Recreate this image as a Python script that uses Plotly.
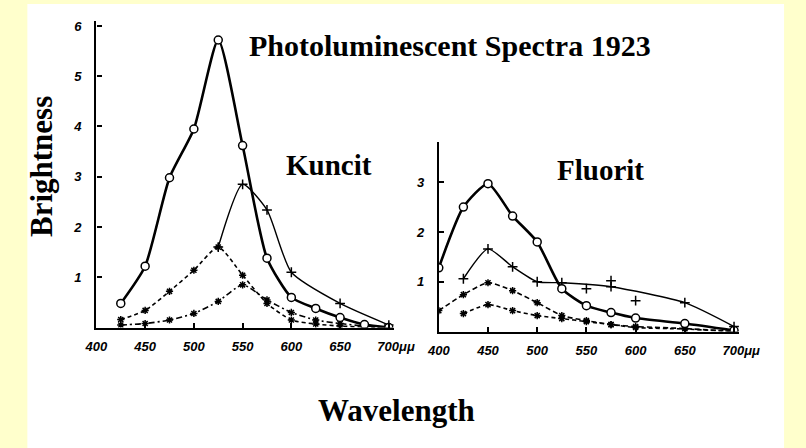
import plotly.graph_objects as go

W, H = 806, 448

# ---------------- data ----------------
# Kuncit (left panel)
k_main_wl = [425, 450, 475, 500, 525, 550, 575, 600, 625, 650, 675, 700]
k_main = [0.48, 1.22, 2.98, 3.95, 5.72, 3.62, 1.38, 0.60, 0.38, 0.20, 0.06, 0.0]

k_thin_wl = [525, 550, 575, 600, 650, 700]
k_thin = [1.60, 2.85, 2.34, 1.10, 0.48, 0.05]

k_dash_wl = [425, 450, 475, 500, 525, 550, 575, 600, 625, 650, 675, 700]
k_dash = [0.16, 0.34, 0.72, 1.14, 1.60, 1.04, 0.48, 0.15, 0.07, 0.03, 0.01, 0.0]

k_low_wl = [425, 450, 475, 500, 525, 550, 575, 600, 625, 650, 675, 700]
k_low = [0.05, 0.08, 0.15, 0.28, 0.52, 0.85, 0.55, 0.30, 0.15, 0.08, 0.03, 0.0]

# Fluorit (right panel)
f_main_wl = [400, 425, 450, 475, 500, 525, 550, 575, 600, 650, 700]
f_main = [1.28, 2.50, 2.97, 2.32, 1.80, 0.86, 0.52, 0.38, 0.27, 0.16, 0.02]

f_thin_wl = [425, 450, 475, 500, 525, 575, 650, 700]
f_thin = [1.06, 1.66, 1.30, 1.00, 0.98, 0.90, 0.58, 0.10]

f_extra_wl = [550, 575, 600]
f_extra = [0.86, 1.02, 0.62]

f_mid_wl = [400, 425, 450, 475, 500, 525, 550, 575, 600, 650, 700]
f_mid = [0.42, 0.74, 0.98, 0.82, 0.58, 0.32, 0.22, 0.14, 0.10, 0.06, 0.0]

f_low_wl = [425, 450, 475, 500, 525, 550, 575, 600, 650, 700]
f_low = [0.36, 0.54, 0.42, 0.32, 0.26, 0.20, 0.14, 0.08, 0.05, 0.0]

x_tickvals = [400, 450, 500, 550, 600, 650, 700]
x_ticktext = ["400", "450", "500", "550", "600", "650", "\u2007\u2007700μμ"]
k_y_tickvals = [1, 2, 3, 4, 5, 6]
f_y_tickvals = [1, 2, 3]

# ---------------- figure ----------------
fig = go.Figure()

def add(x, y, xa, ya, width, dash, symbol, msize, fill="black", mode="lines+markers", shape="spline"):
    fig.add_trace(go.Scatter(
        x=x, y=y, xaxis=xa, yaxis=ya, mode=mode,
        line=dict(color="black", width=width, dash=dash, shape=shape, smoothing=0.6),
        marker=dict(symbol=symbol, size=msize, color=fill,
                    line=dict(color="black", width=1.5)),
        showlegend=False, hoverinfo="skip"))

# Kuncit
add(k_low_wl, k_low, "x", "y", 1.6, "6px,3px,2px,3px", "asterisk-open", 6)
add(k_dash_wl, k_dash, "x", "y", 1.6, "4px,3px", "asterisk-open", 6)
add(k_thin_wl, k_thin, "x", "y", 1.4, "solid", "cross-thin-open", 7)
add(k_main_wl, k_main, "x", "y", 2.6, "solid", "circle", 8, fill="white")

# Fluorit
add(f_low_wl, f_low, "x2", "y2", 1.6, "4px,3px", "asterisk-open", 6)
add(f_mid_wl, f_mid, "x2", "y2", 1.6, "5px,3px", "asterisk-open", 6)
add(f_thin_wl, f_thin, "x2", "y2", 1.4, "solid", "cross-thin-open", 7)
add(f_extra_wl, f_extra, "x2", "y2", 1.4, "solid", "cross-thin-open", 7, mode="markers")
add(f_main_wl, f_main, "x2", "y2", 2.6, "solid", "circle", 8, fill="white")

tickfont = dict(family="Liberation Sans", size=13, color="black", style="italic", weight="bold")

def xaxis(domain, anchor):
    return dict(domain=domain, anchor=anchor, range=[400, 705], tickvals=x_tickvals,
                ticktext=x_ticktext, ticks="inside", ticklen=5, tickwidth=1.5,
                tickcolor="black", showline=True, linecolor="black", linewidth=2,
                showgrid=False, zeroline=False, tickfont=tickfont, ticklabelstandoff=6,
                fixedrange=True)

def yaxis(domain, anchor, rng, tv, lw):
    return dict(domain=domain, anchor=anchor, range=rng, tickvals=tv,
                ticks="inside", ticklen=5, tickwidth=1.5, tickcolor="black",
                showline=True, linecolor="black", linewidth=lw, showgrid=False,
                zeroline=False, tickfont=tickfont, ticklabelstandoff=10, fixedrange=True)

# pixel geometry helpers
def px(xp):
    return xp / W

def py(yp):
    return (H - yp) / H

fig.update_layout(
    width=W, height=H,
    margin=dict(l=0, r=0, t=0, b=0),
    paper_bgcolor="#FFFFCC",
    plot_bgcolor="rgba(0,0,0,0)",
    xaxis=xaxis([px(88), px(398)], "y"),
    yaxis=yaxis([py(327), py(19)], "x", [0, 6.1], k_y_tickvals, 2.4),
    xaxis2=xaxis([px(445), px(758)], "y2"),
    yaxis2=yaxis([py(331), py(141)], "x2", [0, 3.8], f_y_tickvals, 1.8),
    shapes=[dict(type="rect", xref="paper", yref="paper",
                 x0=px(16), x1=px(805), y0=0, y1=py(2),
                 fillcolor="white", line=dict(width=0), layer="below")],
)

serif = "Liberation Serif"
ann = [
    dict(text="<b>Photoluminescent Spectra 1923</b>", x=px(457), y=py(44), size=30),
    dict(text="<b>Kuncit</b>", x=px(331), y=py(164), size=29),
    dict(text="<b>Fluorit</b>", x=px(614), y=py(169), size=29),
    dict(text="<b>Wavelength</b>", x=px(401), y=py(410), size=31),
    dict(text="<b>Brightness</b>", x=px(30), y=py(165), size=31, angle=-90),
]
for a in ann:
    fig.add_annotation(text=a["text"], x=a["x"], y=a["y"], xref="paper", yref="paper",
                       showarrow=False, xanchor="center", yanchor="middle",
                       textangle=a.get("angle", 0),
                       font=dict(family=serif, size=a["size"], color="black"))

fig.write_html("out.html", config={"displayModeBar": False},
               post_script="document.body.style.margin='0';")
